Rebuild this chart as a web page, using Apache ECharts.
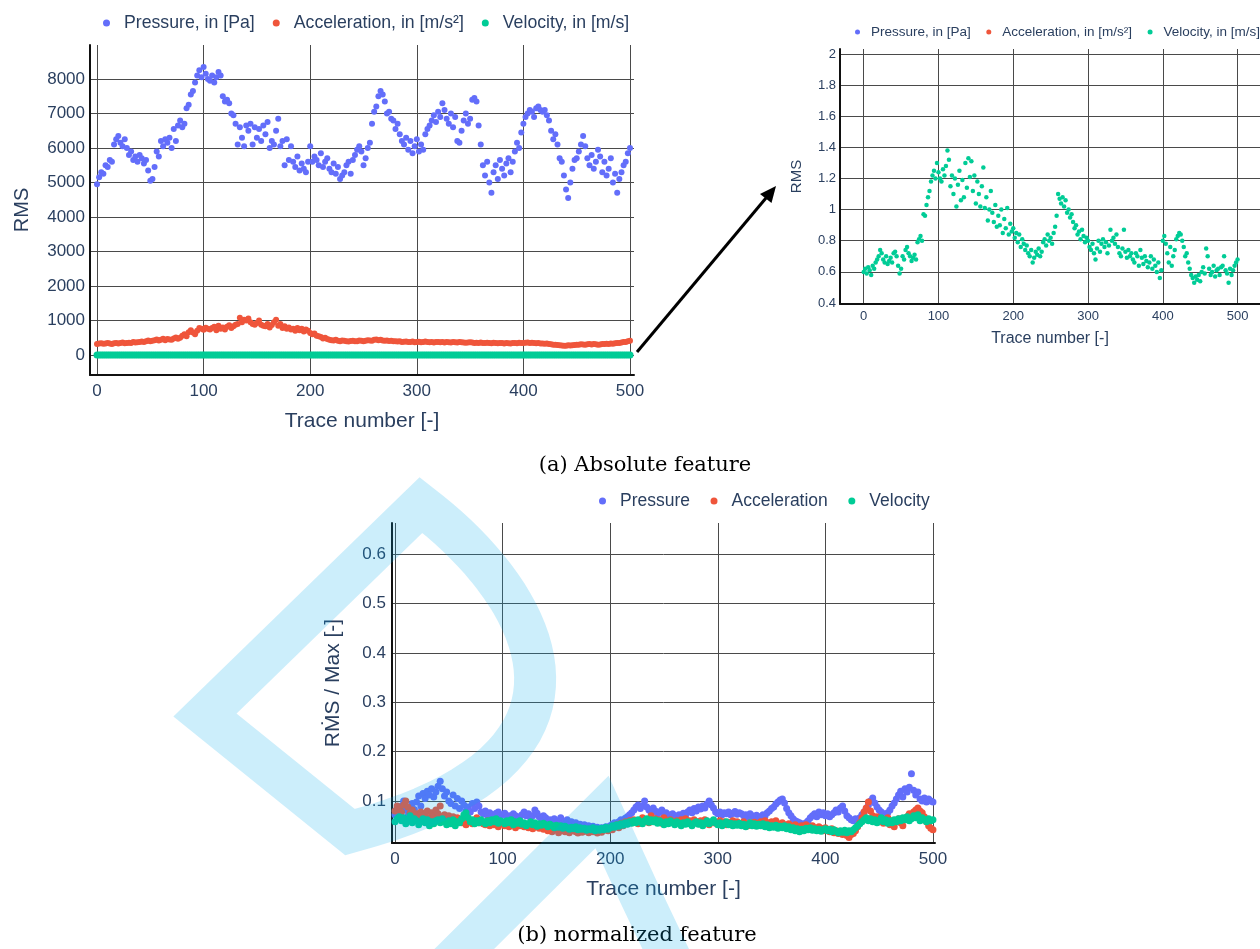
<!DOCTYPE html>
<html>
<head>
<meta charset="utf-8">
<title>RMS feature per trace</title>
<script src="https://cdn.jsdelivr.net/npm/echarts@6/dist/echarts.min.js"></script>
<style>
  html, body { margin: 0; padding: 0; background: #ffffff; }
  #chart { width: 1260px; height: 949px; }
</style>
</head>
<body>
<div id="chart"></div>
<script>
// Samples are taken every second trace (0, 2, 4, ... 500)
const TRACE_STEP = 2;

// (a) absolute RMS values
const pressureRms = [
  4950, 5150, 5300, 5250, 5500, 5450, 5650, 5600, 6100, 6250,
  6350, 6150, 6050, 6250, 6000, 5800, 5900, 5650, 5750, 5600,
  5800, 5700, 5550, 5650, 5350, 5050, 5100, 5450, 5900, 5750,
  6200, 6050, 6250, 6150, 6300, 6000, 6550, 6200, 6650, 6800,
  6600, 6700, 7150, 7250, 7550, 7650, 7900, 8100, 8250, 8050,
  8350, 8150, 8000, 7950, 8100, 7900, 8050, 8200, 8100, 7500,
  7350, 7400, 7300, 7000, 6950, 6700, 6100, 6600, 6300, 6050,
  6650, 6500, 6700, 6100, 6600, 6300, 6550, 6200, 6650, 6400,
  6750, 6000, 6200, 6100, 6500, 6850, 6050, 6200, 5500, 6250,
  5650, 6050, 5600, 5450, 5750, 5350, 5550, 5400, 5300, 5600,
  6050, 5600, 5750, 5650, 5500, 5850, 5450, 5600, 5700, 5400,
  5300, 5550, 5250, 5450, 5100, 5200, 5300, 5500, 5600, 5250,
  5650, 5800, 5950, 6050, 5900, 5500, 5700, 6000, 6150, 6700,
  7050, 7200, 7500, 7650, 7550, 7350, 7000, 7050, 6850, 6800,
  6550, 6700, 6400, 6200, 6100, 6300, 5950, 6200, 5850, 6050,
  6250, 5900, 6100, 5950, 6400, 6550, 6650, 6800, 6950, 6750,
  7050, 6900, 7300, 7100, 6850, 6700, 7000, 6600, 6900, 6200,
  6150, 6500, 6800, 7000, 6700, 6850, 7400, 7450, 7350, 6650,
  6100, 5500, 5200, 5600, 5000, 4700, 5300, 5500, 5100, 5650,
  5400, 5200, 5550, 5700, 5300, 5600, 5900, 6150, 6000, 6450,
  6700, 6900, 7000, 7100, 7050, 6900, 7150, 7200, 7100, 7050,
  7100, 6950, 6800, 6500, 6250, 6400, 6100, 5700, 5600, 5200,
  4800, 4550, 5000, 5400, 5650, 5700, 5900, 6100, 6350, 6050,
  5700, 5500, 5800, 5400, 5600, 5950, 5750, 5300, 5600, 5200,
  5400, 5700, 5000, 5250, 4700, 5100, 5300, 5500, 5600, 5850,
  6000
];
const accelerationRms = [
  320, 330, 340, 325, 330, 345, 335, 320, 340, 350,
  335, 345, 360, 340, 350, 355, 345, 380, 360, 370,
  375, 390, 380, 400, 420, 395, 410, 430, 450, 420,
  440, 470, 430, 460, 450, 440, 480, 510, 470, 500,
  560, 600, 540, 660, 720, 650, 600, 700, 780, 760,
  730, 790, 760, 740, 780, 820, 720, 850, 760, 800,
  740, 820, 860, 780, 830, 880, 900, 1080, 950, 1020,
  1000, 1060, 950, 900, 880, 930, 1000, 880, 850, 830,
  900, 800, 870, 950, 1020, 850, 900, 780, 830, 760,
  800, 740, 760, 700, 780, 720, 760, 680, 740, 700,
  640, 600, 620, 560, 540, 520, 480, 500, 460, 440,
  430, 420, 440, 410, 400, 420, 410, 400, 390, 405,
  410, 395, 400, 420, 410, 400, 415, 430, 420, 410,
  440, 450, 430, 440, 420, 410, 420, 405, 410, 400,
  395, 390, 400, 380, 385, 390, 375, 380, 390, 370,
  380, 385, 370, 375, 390, 380, 370, 375, 365, 380,
  375, 370, 380, 365, 375, 370, 360, 375, 370, 365,
  380, 370, 360, 355, 365, 370, 360, 345, 355, 350,
  360, 350, 345, 355, 350, 340, 355, 345, 340, 350,
  345, 335, 350, 340, 330, 345, 350, 340, 355, 345,
  350, 355, 360, 345, 355, 350, 340, 345, 335, 330,
  325, 330, 320, 310, 300, 295, 290, 280, 275, 270,
  265, 280, 275, 285, 290, 300, 295, 310, 305, 300,
  310, 315, 305, 320, 310, 300, 305, 320, 315, 325,
  320, 330, 325, 340, 350, 345, 360, 380, 375, 395,
  410
];
const velocityRms = [
  0.60, 0.62, 0.59, 0.63, 0.61, 0.58, 0.64, 0.62, 0.66, 0.68,
  0.70, 0.74, 0.72, 0.68, 0.66, 0.70, 0.65, 0.67, 0.69, 0.66,
  0.72, 0.73, 0.70, 0.64, 0.59, 0.62, 0.70, 0.68, 0.74, 0.76,
  0.72, 0.70, 0.67, 0.69, 0.71, 0.68, 0.79, 0.81, 0.83, 0.80,
  0.97, 0.96, 1.03, 1.08, 1.12, 1.18, 1.22, 1.25, 1.20, 1.30,
  1.24, 1.20, 1.18, 1.26, 1.22, 1.28, 1.38, 1.32, 1.15, 1.22,
  1.10, 1.20, 1.02, 1.16, 1.25, 1.06, 1.19, 1.08, 1.30, 1.14,
  1.33, 1.21, 1.31, 1.12, 1.22, 1.04, 1.18, 1.10, 1.02, 1.15,
  1.27, 1.01, 1.08, 0.93, 1.00, 1.12, 0.98, 0.92, 1.03, 0.89,
  0.96, 0.90, 1.00, 0.85, 0.94, 0.88, 1.01, 0.84, 0.91, 0.86,
  0.88, 0.82, 0.85, 0.79, 0.84, 0.76, 0.81, 0.78, 0.74, 0.77,
  0.72, 0.70, 0.74, 0.66, 0.69, 0.73, 0.71, 0.75, 0.70, 0.73,
  0.79, 0.81, 0.77, 0.84, 0.80, 0.82, 0.78, 0.85, 0.89, 0.96,
  1.10, 1.07, 1.04, 1.08, 1.02, 1.06, 0.98, 1.00, 0.95, 0.97,
  0.92, 0.88, 0.90, 0.84, 0.86, 0.81, 0.87, 0.83, 0.79, 0.82,
  0.80, 0.76, 0.74, 0.78, 0.72, 0.68, 0.75, 0.80, 0.73, 0.78,
  0.81, 0.76, 0.79, 0.72, 0.77, 0.87, 0.80, 0.82, 0.78, 0.84,
  0.76, 0.72, 0.70, 0.75, 0.87, 0.73, 0.69, 0.74, 0.70, 0.72,
  0.68, 0.66, 0.72, 0.70, 0.64, 0.74, 0.69, 0.65, 0.70, 0.67,
  0.63, 0.66, 0.70, 0.62, 0.68, 0.64, 0.60, 0.66, 0.56, 0.61,
  0.80, 0.83, 0.78, 0.72, 0.66, 0.76, 0.64, 0.70, 0.74, 0.81,
  0.83, 0.85, 0.84, 0.80, 0.76, 0.70, 0.72, 0.66, 0.62, 0.58,
  0.56, 0.53, 0.57, 0.55, 0.58, 0.54, 0.60, 0.63, 0.59, 0.75,
  0.70, 0.62, 0.58, 0.60, 0.64, 0.57, 0.61, 0.62, 0.58, 0.63,
  0.64, 0.70, 0.61, 0.59, 0.53, 0.62, 0.58, 0.61, 0.64, 0.66,
  0.68
];

// (b) RMS divided by the maximum of each trace
const pressureNorm = [
  0.072, 0.085, 0.078, 0.090, 0.100, 0.082, 0.070, 0.088, 0.095, 0.083,
  0.098, 0.110, 0.090, 0.115, 0.105, 0.120, 0.112, 0.125, 0.108, 0.118,
  0.130, 0.140, 0.125, 0.110, 0.118, 0.100, 0.095, 0.112, 0.090, 0.105,
  0.085, 0.100, 0.092, 0.080, 0.088, 0.078, 0.095, 0.085, 0.098, 0.090,
  0.078, 0.074, 0.080, 0.070, 0.076, 0.072, 0.068, 0.075, 0.078, 0.070,
  0.072, 0.075, 0.068, 0.070, 0.066, 0.074, 0.070, 0.065, 0.068, 0.072,
  0.078, 0.070, 0.074, 0.066, 0.070, 0.082, 0.075, 0.068, 0.064, 0.070,
  0.066, 0.060, 0.062, 0.058, 0.064, 0.056, 0.060, 0.066, 0.055, 0.058,
  0.062, 0.054, 0.058, 0.052, 0.056, 0.050, 0.053, 0.048, 0.052, 0.047,
  0.050, 0.046, 0.049, 0.044, 0.047, 0.043, 0.046, 0.045, 0.048, 0.044,
  0.050, 0.053, 0.056, 0.052, 0.058, 0.062, 0.060, 0.065, 0.068, 0.072,
  0.076, 0.082, 0.088, 0.092, 0.085, 0.090, 0.100, 0.088, 0.082, 0.078,
  0.086, 0.080, 0.074, 0.078, 0.082, 0.070, 0.076, 0.072, 0.068, 0.074,
  0.070, 0.066, 0.072, 0.068, 0.075, 0.070, 0.078, 0.082, 0.076, 0.085,
  0.080, 0.088, 0.084, 0.090, 0.086, 0.094, 0.100, 0.092, 0.086, 0.078,
  0.074, 0.078, 0.072, 0.076, 0.074, 0.078, 0.072, 0.075, 0.079, 0.073,
  0.076, 0.074, 0.070, 0.072, 0.068, 0.074, 0.070, 0.066, 0.071, 0.068,
  0.066, 0.072, 0.070, 0.076, 0.080, 0.085, 0.088, 0.094, 0.098, 0.102,
  0.104, 0.096, 0.085, 0.076, 0.070, 0.064, 0.060, 0.058, 0.056, 0.054,
  0.052, 0.056, 0.060, 0.066, 0.070, 0.074, 0.068, 0.078, 0.072, 0.076,
  0.070, 0.074, 0.068, 0.072, 0.076, 0.082, 0.078, 0.086, 0.090, 0.080,
  0.070, 0.066, 0.062, 0.060, 0.064, 0.058, 0.066, 0.072, 0.078, 0.085,
  0.092, 0.100, 0.106, 0.096, 0.088, 0.082, 0.078, 0.074, 0.070, 0.076,
  0.082, 0.090, 0.096, 0.104, 0.112, 0.120, 0.108, 0.125, 0.118, 0.128,
  0.155, 0.122, 0.112, 0.118, 0.104, 0.100, 0.106, 0.098, 0.104, 0.100,
  0.098
];
const accelerationNorm = [
  0.080, 0.090, 0.085, 0.078, 0.092, 0.100, 0.088, 0.075, 0.082, 0.070,
  0.074, 0.068, 0.078, 0.070, 0.072, 0.080, 0.066, 0.076, 0.070, 0.082,
  0.074, 0.090, 0.068, 0.072, 0.064, 0.070, 0.062, 0.068, 0.058, 0.066,
  0.060, 0.056, 0.064, 0.052, 0.062, 0.058, 0.054, 0.060, 0.066, 0.056,
  0.058, 0.054, 0.052, 0.060, 0.050, 0.056, 0.052, 0.058, 0.048, 0.054,
  0.056, 0.050, 0.054, 0.048, 0.052, 0.058, 0.046, 0.052, 0.050, 0.054,
  0.048, 0.052, 0.046, 0.050, 0.044, 0.048, 0.052, 0.045, 0.049, 0.043,
  0.046, 0.040, 0.044, 0.038, 0.042, 0.046, 0.036, 0.040, 0.044, 0.038,
  0.042, 0.036, 0.040, 0.044, 0.038, 0.035, 0.041, 0.037, 0.043, 0.039,
  0.036, 0.040, 0.038, 0.042, 0.035, 0.039, 0.037, 0.041, 0.044, 0.040,
  0.046, 0.042, 0.048, 0.052, 0.046, 0.055, 0.050, 0.058, 0.054, 0.060,
  0.056, 0.062, 0.058, 0.054, 0.060, 0.066, 0.058, 0.062, 0.056, 0.070,
  0.060, 0.064, 0.058, 0.062, 0.055, 0.066, 0.060, 0.056, 0.062, 0.058,
  0.054, 0.060, 0.056, 0.062, 0.058, 0.064, 0.055, 0.060, 0.057, 0.062,
  0.058, 0.054, 0.060, 0.056, 0.062, 0.058, 0.052, 0.057, 0.060, 0.055,
  0.056, 0.060, 0.054, 0.058, 0.052, 0.057, 0.055, 0.060, 0.053, 0.058,
  0.055, 0.052, 0.058, 0.054, 0.050, 0.056, 0.053, 0.057, 0.052, 0.055,
  0.058, 0.054, 0.060, 0.056, 0.052, 0.058, 0.055, 0.060, 0.054, 0.050,
  0.056, 0.052, 0.048, 0.054, 0.050, 0.046, 0.052, 0.048, 0.044, 0.050,
  0.046, 0.052, 0.048, 0.044, 0.050, 0.046, 0.042, 0.048, 0.045, 0.040,
  0.046, 0.042, 0.038, 0.044, 0.036, 0.040, 0.034, 0.038, 0.032, 0.036,
  0.030, 0.026, 0.032, 0.034, 0.040, 0.048, 0.056, 0.066, 0.078, 0.086,
  0.098, 0.080, 0.070, 0.062, 0.068, 0.058, 0.064, 0.055, 0.060, 0.066,
  0.052, 0.060, 0.048, 0.058, 0.064, 0.056, 0.050, 0.062, 0.068, 0.074,
  0.070, 0.078, 0.082, 0.086, 0.080, 0.076, 0.068, 0.058, 0.050, 0.045,
  0.042
];
const velocityNorm = [
  0.058, 0.064, 0.068, 0.060, 0.066, 0.054, 0.062, 0.070, 0.056, 0.064,
  0.060, 0.052, 0.058, 0.064, 0.056, 0.062, 0.050, 0.058, 0.054, 0.060,
  0.062, 0.056, 0.064, 0.058, 0.052, 0.060, 0.054, 0.062, 0.050, 0.058,
  0.056, 0.064, 0.072, 0.076, 0.066, 0.058, 0.062, 0.054, 0.060, 0.056,
  0.062, 0.058, 0.054, 0.060, 0.056, 0.062, 0.058, 0.064, 0.055, 0.060,
  0.058, 0.054, 0.060, 0.056, 0.062, 0.052, 0.058, 0.055, 0.060, 0.053,
  0.056, 0.050, 0.054, 0.058, 0.052, 0.056, 0.049, 0.054, 0.051, 0.055,
  0.052, 0.048, 0.053, 0.050, 0.046, 0.051, 0.047, 0.050, 0.045, 0.049,
  0.046, 0.043, 0.047, 0.044, 0.048, 0.042, 0.046, 0.043, 0.045, 0.041,
  0.044, 0.042, 0.046, 0.040, 0.044, 0.041, 0.045, 0.042, 0.047, 0.043,
  0.046, 0.050, 0.047, 0.052, 0.049, 0.054, 0.051, 0.056, 0.053, 0.058,
  0.055, 0.060, 0.056, 0.062, 0.058, 0.054, 0.060, 0.064, 0.057, 0.062,
  0.058, 0.062, 0.055, 0.060, 0.056, 0.052, 0.058, 0.054, 0.060, 0.056,
  0.052, 0.058, 0.055, 0.050, 0.056, 0.053, 0.058, 0.054, 0.050, 0.055,
  0.058, 0.053, 0.056, 0.050, 0.055, 0.060, 0.054, 0.057, 0.062, 0.056,
  0.052, 0.056, 0.050, 0.054, 0.058, 0.052, 0.055, 0.050, 0.054, 0.051,
  0.055, 0.050, 0.053, 0.048, 0.052, 0.056, 0.050, 0.054, 0.049, 0.053,
  0.050, 0.054, 0.048, 0.052, 0.046, 0.050, 0.047, 0.051, 0.045, 0.049,
  0.046, 0.050, 0.044, 0.048, 0.042, 0.046, 0.040, 0.044, 0.038, 0.043,
  0.040, 0.045, 0.042, 0.046, 0.041, 0.044, 0.040, 0.043, 0.039, 0.042,
  0.044, 0.040, 0.043, 0.038, 0.042, 0.039, 0.036, 0.040, 0.037, 0.041,
  0.036, 0.040, 0.038, 0.042, 0.046, 0.050, 0.054, 0.058, 0.062, 0.066,
  0.060, 0.064, 0.058, 0.062, 0.056, 0.060, 0.066, 0.058, 0.062, 0.055,
  0.060, 0.056, 0.062, 0.058, 0.064, 0.060, 0.066, 0.062, 0.068, 0.060,
  0.064, 0.070, 0.066, 0.072, 0.060, 0.066, 0.062, 0.058, 0.064, 0.060,
  0.062
];

// Tick labels
const traceTicks = [0, 100, 200, 300, 400, 500];
const rmsTicks = [0, 1000, 2000, 3000, 4000, 5000, 6000, 7000, 8000];
const velocityTicks = [0.4, 0.6, 0.8, 1, 1.2, 1.4, 1.6, 1.8, 2];
const normTicks = [0.1, 0.2, 0.3, 0.4, 0.5, 0.6];

// Legend / series names
const absNames = ['Pressure, in [Pa]', 'Acceleration, in [m/s²]', 'Velocity, in [m/s]'];
const normNames = ['Pressure', 'Acceleration', 'Velocity'];
const colors = ['#636efa', '#EF553B', '#00cc96'];

const FONT = '"Liberation Sans", Arial, sans-serif';
const SERIF = '"DejaVu Serif", "Liberation Serif", serif';
const TEXT = '#2a3f5f';

const traceNumbers = pressureRms.map((_, i) => i * TRACE_STEP);
const pairs = (values) => traceNumbers.map((t, i) => [t, values[i]]);

function axis(gridIndex, min, max, ticks, cfg) {
  return {
    type: 'value',
    gridIndex,
    min, max,
    name: cfg.name,
    nameLocation: 'middle',
    nameGap: cfg.nameGap,
    nameTextStyle: { fontFamily: FONT, fontSize: cfg.nameSize, color: TEXT },
    axisLine: { show: true, onZero: false, lineStyle: { color: '#111', width: 2 } },
    axisTick: { show: false, customValues: ticks },
    axisLabel: {
      customValues: ticks, formatter: (v) => String(v),
      fontFamily: FONT, fontSize: cfg.labelSize, color: TEXT, margin: cfg.margin
    },
    splitLine: { show: true, lineStyle: { color: '#4a4a4a', width: 1 } }
  };
}

function scatter(name, values, xi, color, size) {
  return {
    type: 'scatter', name, data: pairs(values),
    xAxisIndex: xi, yAxisIndex: xi,
    symbolSize: size,
    itemStyle: { color, opacity: 1 },
    emphasis: { disabled: true },
    silent: true
  };
}

function legend(names, left, top, fontSize, dot, pad, gap) {
  return {
    data: names, left, top, width: 700, icon: 'circle',
    itemWidth: dot, itemHeight: dot, itemGap: gap,
    selectedMode: false,
    textStyle: { fontFamily: FONT, fontSize, color: TEXT, padding: [0, 0, 0, pad] }
  };
}

// Watermark outline (centre line of a thick translucent stroke)
function cubic(p0, p1, p2, p3, n) {
  const out = [];
  for (let k = 1; k <= n; k++) {
    const t = k / n, u = 1 - t;
    out.push([
      u*u*u*p0[0] + 3*u*u*t*p1[0] + 3*u*t*t*p2[0] + t*t*t*p3[0],
      u*u*u*p0[1] + 3*u*u*t*p1[1] + 3*u*t*t*p2[1] + t*t*t*p3[1]
    ]);
  }
  return out;
}
const markA = [[205, 715], [421, 505]]
  .concat(cubic([421, 505], [545, 600], [625, 760], [350, 832], 40))
  .concat([[205, 715], [421, 505]]);
const markB = [[420, 993], [602, 812], [640, 895], [690, 1000]];

const WATERMARK = 'rgba(0, 170, 235, 0.2)';

const option = {
  animation: false,
  backgroundColor: '#ffffff',
  color: colors,
  textStyle: { fontFamily: FONT },
  legend: [
    legend(absNames, 98, 9, 17.7, 7, 9, 18),
    legend(absNames, 850, 20, 13.5, 5, 6, 15.5),
    legend(normNames, 594, 487, 17.5, 7, 9, 20.5)
  ],
  grid: [
    { left: 90, top: 45, width: 544, height: 330, containLabel: false },
    { left: 840, top: 49, width: 426, height: 255, containLabel: false },
    { left: 392, top: 523, width: 543, height: 320, containLabel: false }
  ],
  xAxis: [
    axis(0, -6.57, 503.75, traceTicks, { name: 'Trace number [-]', nameGap: 36, nameSize: 21, labelSize: 17, margin: 8 }),
    axis(1, -31.7, 530, traceTicks, { name: 'Trace number [-]', nameGap: 27, nameSize: 16, labelSize: 13, margin: 6 }),
    axis(2, -2.8, 501.9, traceTicks, { name: 'Trace number [-]', nameGap: 36, nameSize: 21, labelSize: 17, margin: 8 })
  ],
  yAxis: [
    axis(0, -580, 8985, rmsTicks, { name: 'RMS', nameGap: 58, nameSize: 20, labelSize: 17, margin: 5 }),
    axis(1, 0.3936, 2.032, velocityTicks, { name: 'RMS', nameGap: 36, nameSize: 15, labelSize: 13, margin: 4 }),
    axis(2, 0.015, 0.6628, normTicks, { name: 'RṀS / Max [-]', nameGap: 48, nameSize: 21, labelSize: 17, margin: 6 })
  ],
  series: [
    scatter(absNames[0], pressureRms, 0, colors[0], 6),
    scatter(absNames[1], accelerationRms, 0, colors[1], 6),
    scatter(absNames[2], velocityRms, 0, colors[2], 7),
    scatter(absNames[2], velocityRms, 1, colors[2], 4.5),
    scatter(normNames[0], pressureNorm, 2, colors[0], 7),
    scatter(normNames[1], accelerationNorm, 2, colors[1], 7),
    scatter(normNames[2], velocityNorm, 2, colors[2], 7)
  ],
  graphic: [
    // arrow from the velocity band to the zoomed view
    { type: 'polyline', z: 50, shape: { points: [[637, 352], [766, 198]] },
      style: { stroke: '#000', lineWidth: 3, fill: null } },
    { type: 'polygon', z: 50, shape: { points: [[776, 186], [771.5, 203], [760, 194]] },
      style: { fill: '#000' } },
    // sub-figure captions
    { type: 'text', z: 50, x: 645, y: 466,
      style: { text: '(a) Absolute feature', fontFamily: SERIF, fontSize: 21, fill: '#000', align: 'center', verticalAlign: 'middle' } },
    { type: 'text', z: 50, x: 637, y: 936,
      style: { text: '(b) normalized feature', fontFamily: SERIF, fontSize: 21, fill: '#000', align: 'center', verticalAlign: 'middle' } },
    // translucent watermark strokes laid over everything
    { type: 'polyline', z: 100, silent: true, shape: { points: markA },
      style: { stroke: WATERMARK, lineWidth: 42, fill: null, lineJoin: 'miter', miterLimit: 10 } },
    { type: 'polyline', z: 100, silent: true, shape: { points: markB },
      style: { stroke: WATERMARK, lineWidth: 42, fill: null, lineJoin: 'miter', miterLimit: 10 } }
  ]
};

const chart = echarts.init(document.getElementById('chart'), null, { renderer: 'canvas', width: 1260, height: 949 });
chart.setOption(option);
</script>
</body>
</html>
